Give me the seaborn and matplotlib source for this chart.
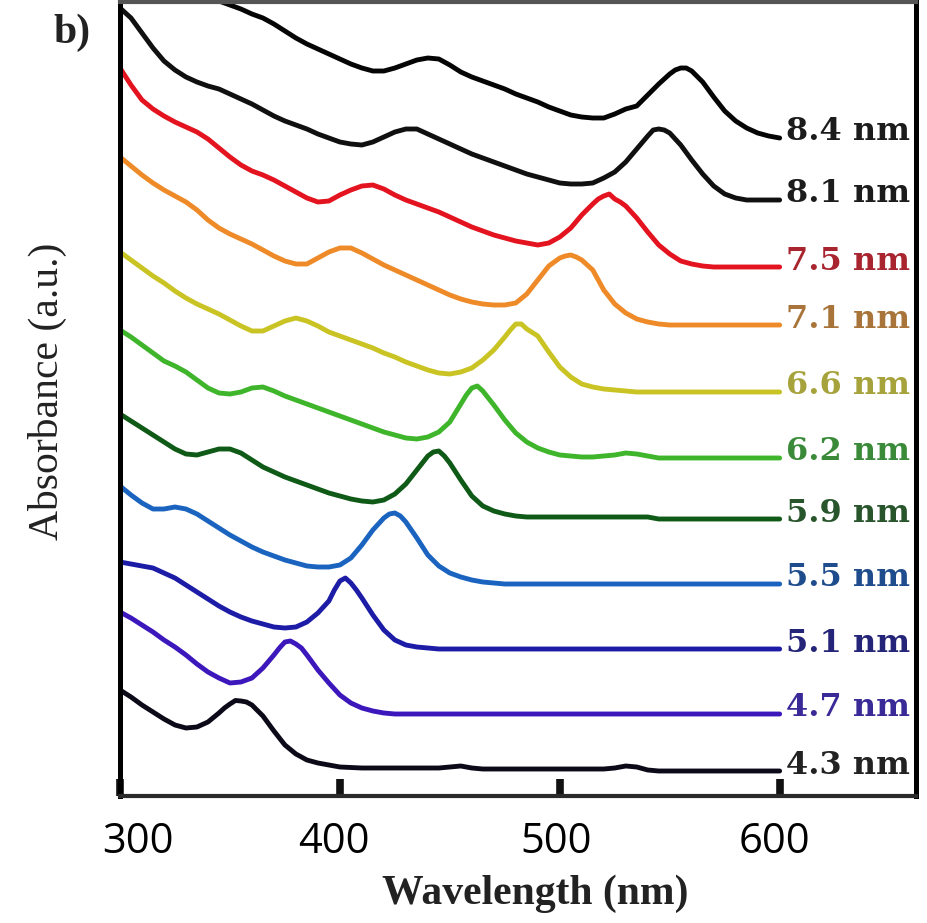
import matplotlib
matplotlib.use("Agg")
import matplotlib.pyplot as plt
from matplotlib.transforms import ScaledTranslation
import pandas as pd
import seaborn as sns

# Sample grid (nm) shared by all spectra
wavelength = list(range(300, 605, 5))

# Stacked absorbance spectra (a.u.), one list per nanocrystal size
abs_4_3 = [1.06, 0.99, 0.91, 0.84, 0.77, 0.71, 0.68, 0.69, 0.74, 0.83,
           0.92, 0.95, 0.91, 0.80, 0.65, 0.51, 0.42, 0.36, 0.33, 0.31,
           0.29, 0.285, 0.28, 0.28, 0.28, 0.28, 0.28, 0.28, 0.28, 0.28,
           0.29, 0.30, 0.28, 0.27, 0.27, 0.27, 0.27, 0.27, 0.27, 0.27,
           0.27, 0.27, 0.27, 0.27, 0.27, 0.28, 0.30, 0.29, 0.26, 0.25,
           0.25, 0.25, 0.25, 0.25, 0.25, 0.25, 0.25, 0.25, 0.25, 0.25, 0.25]
abs_4_7 = [1.84, 1.78, 1.71, 1.64, 1.56, 1.49, 1.41, 1.32, 1.24, 1.18,
           1.13, 1.14, 1.18, 1.28, 1.41, 1.54, 1.52, 1.41, 1.26, 1.13,
           1.01, 0.93, 0.88, 0.85, 0.83, 0.82, 0.82, 0.82, 0.82, 0.82,
           0.82, 0.82, 0.82, 0.82, 0.82, 0.82, 0.82, 0.82, 0.82, 0.82,
           0.82, 0.82, 0.82, 0.82, 0.82, 0.82, 0.82, 0.82, 0.82, 0.82,
           0.82, 0.82, 0.82, 0.82, 0.82, 0.82, 0.82, 0.82, 0.82, 0.82, 0.82]
abs_5_1 = [2.34, 2.32, 2.30, 2.28, 2.23, 2.18, 2.11, 2.04, 1.97, 1.90,
           1.84, 1.79, 1.75, 1.72, 1.69, 1.68, 1.69, 1.74, 1.83, 1.95,
           2.15, 2.13, 1.98, 1.81, 1.66, 1.56, 1.51, 1.49, 1.48, 1.47,
           1.47, 1.47, 1.47, 1.47, 1.47, 1.47, 1.47, 1.47, 1.47, 1.47,
           1.47, 1.47, 1.47, 1.47, 1.47, 1.47, 1.47, 1.47, 1.47, 1.47,
           1.47, 1.47, 1.47, 1.47, 1.47, 1.47, 1.47, 1.47, 1.47, 1.47, 1.47]
abs_5_5 = [3.10, 3.01, 2.93, 2.87, 2.87, 2.89, 2.87, 2.82, 2.75, 2.68,
           2.61, 2.55, 2.49, 2.44, 2.40, 2.36, 2.33, 2.30, 2.29, 2.29,
           2.31, 2.38, 2.51, 2.66, 2.78, 2.83, 2.74, 2.58, 2.41, 2.30,
           2.23, 2.19, 2.16, 2.14, 2.13, 2.12, 2.12, 2.12, 2.12, 2.12,
           2.12, 2.12, 2.12, 2.12, 2.12, 2.12, 2.12, 2.12, 2.12, 2.12,
           2.12, 2.12, 2.12, 2.12, 2.12, 2.12, 2.12, 2.12, 2.12, 2.12, 2.12]
abs_5_9 = [3.82, 3.75, 3.68, 3.61, 3.54, 3.47, 3.42, 3.41, 3.44, 3.47,
           3.47, 3.43, 3.36, 3.29, 3.24, 3.19, 3.15, 3.11, 3.07, 3.03,
           3.00, 2.97, 2.95, 2.94, 2.96, 3.02, 3.12, 3.26, 3.40, 3.45,
           3.33, 3.16, 3.00, 2.90, 2.85, 2.82, 2.80, 2.79, 2.79, 2.79,
           2.79, 2.79, 2.79, 2.79, 2.79, 2.79, 2.79, 2.79, 2.79, 2.77,
           2.77, 2.77, 2.77, 2.77, 2.77, 2.77, 2.77, 2.77, 2.77, 2.77, 2.77]
abs_6_2 = [4.66, 4.59, 4.51, 4.43, 4.35, 4.30, 4.24, 4.16, 4.08, 4.03,
           4.02, 4.04, 4.08, 4.09, 4.05, 4.00, 3.96, 3.92, 3.88, 3.84,
           3.80, 3.76, 3.72, 3.68, 3.64, 3.61, 3.58, 3.57, 3.59, 3.64,
           3.74, 3.92, 4.08, 4.05, 3.91, 3.76, 3.63, 3.54, 3.48, 3.44,
           3.41, 3.40, 3.39, 3.39, 3.40, 3.41, 3.43, 3.42, 3.40, 3.38,
           3.38, 3.38, 3.38, 3.38, 3.38, 3.38, 3.38, 3.38, 3.38, 3.38, 3.38]
abs_6_6 = [5.44, 5.36, 5.28, 5.20, 5.13, 5.05, 4.98, 4.92, 4.87, 4.82,
           4.76, 4.70, 4.65, 4.65, 4.70, 4.75, 4.78, 4.75, 4.70, 4.64,
           4.60, 4.56, 4.52, 4.48, 4.43, 4.39, 4.34, 4.30, 4.26, 4.23,
           4.22, 4.24, 4.28, 4.36, 4.46, 4.59, 4.72, 4.67, 4.60, 4.44,
           4.29, 4.19, 4.12, 4.09, 4.07, 4.06, 4.05, 4.04, 4.04, 4.04,
           4.04, 4.04, 4.04, 4.04, 4.04, 4.04, 4.04, 4.04, 4.04, 4.04, 4.04]
abs_7_1 = [6.39, 6.30, 6.21, 6.13, 6.06, 6.00, 5.94, 5.86, 5.76, 5.68,
           5.62, 5.57, 5.52, 5.46, 5.40, 5.35, 5.32, 5.32, 5.38, 5.44,
           5.48, 5.48, 5.43, 5.37, 5.31, 5.26, 5.21, 5.16, 5.11, 5.06,
           5.01, 4.97, 4.94, 4.92, 4.91, 4.91, 4.93, 5.02, 5.16, 5.30,
           5.38, 5.41, 5.36, 5.26, 5.06, 4.92, 4.83, 4.77, 4.74, 4.72,
           4.71, 4.71, 4.71, 4.71, 4.71, 4.71, 4.71, 4.71, 4.71, 4.71, 4.71]
abs_7_5 = [7.28, 7.11, 6.96, 6.87, 6.80, 6.74, 6.69, 6.64, 6.57, 6.48,
           6.39, 6.31, 6.25, 6.21, 6.16, 6.10, 6.04, 5.98, 5.94, 5.95,
           6.01, 6.06, 6.10, 6.11, 6.07, 6.01, 5.96, 5.92, 5.88, 5.84,
           5.79, 5.74, 5.69, 5.65, 5.61, 5.58, 5.55, 5.53, 5.51, 5.53,
           5.59, 5.68, 5.81, 5.92, 6.00, 5.97, 5.90, 5.78, 5.64, 5.51,
           5.42, 5.35, 5.32, 5.30, 5.29, 5.29, 5.29, 5.29, 5.29, 5.29, 5.29]
abs_8_1 = [7.88, 7.78, 7.63, 7.48, 7.35, 7.26, 7.19, 7.14, 7.10, 7.07,
           7.02, 6.97, 6.92, 6.86, 6.80, 6.75, 6.71, 6.67, 6.62, 6.58,
           6.54, 6.52, 6.51, 6.54, 6.59, 6.64, 6.67, 6.67, 6.62, 6.57,
           6.52, 6.47, 6.42, 6.38, 6.34, 6.30, 6.26, 6.22, 6.19, 6.16,
           6.13, 6.12, 6.12, 6.13, 6.18, 6.24, 6.34, 6.47, 6.60, 6.67,
           6.63, 6.51, 6.36, 6.22, 6.10, 6.02, 5.98, 5.96, 5.96, 5.96, 5.96]
# the largest size runs off the top of the frame below 340 nm
abs_8_4 = [8.00, 7.95, 7.91, 7.87, 7.82, 7.78, 7.72, 7.65, 7.58, 7.52,
           7.47, 7.42, 7.37, 7.32, 7.28, 7.25, 7.25, 7.28, 7.32, 7.36,
           7.38, 7.37, 7.31, 7.24, 7.19, 7.15, 7.11, 7.07, 7.02, 6.98,
           6.94, 6.89, 6.85, 6.81, 6.79, 6.78, 6.78, 6.82, 6.87, 6.90,
           7.01, 7.12, 7.22, 7.28, 7.25, 7.14, 6.99, 6.85, 6.75, 6.68,
           6.63, 6.60, 6.58]
wavelength_8_4 = wavelength[8:]

# extra readings around each excitonic maximum (wavelength, absorbance)
peak_points = {
    "4.3 nm": [(347.5, 0.88), (352.5, 0.955), (357.5, 0.94)],
    "4.7 nm": [(372.5, 1.48), (377.5, 1.55), (382.5, 1.48)],
    "5.1 nm": [(397.5, 2.06), (402.5, 2.18), (407.5, 2.06)],
    "5.5 nm": [(422.5, 2.82), (427.5, 2.80)],
    "5.9 nm": [(442.5, 3.44), (447.5, 3.40)],
    "6.2 nm": [(457.5, 4.01), (462.5, 4.10), (467.5, 3.98)],
    "6.6 nm": [(477.5, 4.66), (482.5, 4.72)],
    "7.1 nm": [(502.5, 5.40), (507.5, 5.39)],
    "7.5 nm": [(517.5, 5.97), (522.5, 6.02), (527.5, 5.94)],
    "8.1 nm": [(542.5, 6.66), (547.5, 6.66)],
    "8.4 nm": [(552.5, 7.26), (557.5, 7.28)],
}

sizes = ["8.4 nm", "8.1 nm", "7.5 nm", "7.1 nm", "6.6 nm", "6.2 nm",
         "5.9 nm", "5.5 nm", "5.1 nm", "4.7 nm", "4.3 nm"]
spectra = [abs_8_4, abs_8_1, abs_7_5, abs_7_1, abs_6_6, abs_6_2,
           abs_5_9, abs_5_5, abs_5_1, abs_4_7, abs_4_3]
grids = [wavelength_8_4] + [wavelength] * 10
line_colors = ["#050505", "#101010", "#e3141f", "#ee8a28", "#c9c424",
               "#3fb52c", "#0f5a16", "#1a64c0", "#1c1ca6", "#3c18bc", "#0c0a18"]
label_colors = ["#1c1c1c", "#1c1c1c", "#a8252f", "#a8743a", "#a6a23c",
                "#3a8a3a", "#28552c", "#1f4c8c", "#242478", "#3a2a98", "#222222"]
tick_values = [300, 400, 500, 600]
tick_labels = ["300", "400", "500", "600"]

frames = []
for name, grid, vals in zip(sizes, grids, spectra):
    pts = list(zip(grid, vals)) + peak_points[name]
    pts.sort()
    frames.append(pd.DataFrame({"Wavelength": [p[0] for p in pts],
                                "Absorbance": [p[1] for p in pts],
                                "Size": name}))
df = pd.concat(frames, ignore_index=True)

sns.set_style("ticks")
plt.rcParams["font.family"] = ["Liberation Serif", "DejaVu Serif"]

fig = plt.figure(figsize=(9.27, 9.23), dpi=100)
ax = fig.add_axes([120 / 927, 127 / 923, 796 / 927, 794 / 923])

sns.lineplot(data=df, x="Wavelength", y="Absorbance", hue="Size",
             hue_order=sizes, palette=dict(zip(sizes, line_colors)),
             estimator=None, sort=False, legend=False, linewidth=3.5, ax=ax)

ax.set_xlim(300, 662)
ax.set_ylim(0, 7.94)

# size annotations at the end of each trace
for name, vals, col in zip(sizes, spectra, label_colors):
    ax.text(603, vals[-1] + 0.06, name, color=col, fontsize=23,
            fontweight="bold", family="DejaVu Serif", ha="left", va="center",
            clip_on=True)

ax.set_yticks([])
ax.set_xticks(tick_values)
ax.set_xticklabels(tick_labels, family="Open Sans", fontsize=30, color="black")
ax.tick_params(axis="x", which="major", direction="in", length=12, width=5.5,
               color="#111111", pad=18, bottom=True, top=False)

offsets_px = [18, -6, -4, -5]
for lab, dx in zip(ax.get_xticklabels(), offsets_px):
    lab.set_transform(lab.get_transform() + ScaledTranslation(dx / 100, 0, fig.dpi_scale_trans))

for side, lw, col in [("left", 3.6, "#000000"), ("right", 3.6, "#000000"),
                      ("bottom", 3.0, "#2a2a2a"), ("top", 3.0, "#555555")]:
    ax.spines[side].set_visible(True)
    ax.spines[side].set_linewidth(lw)
    ax.spines[side].set_color(col)

ax.set_xlabel("Wavelength (nm)", fontsize=30, fontweight="bold", color="#222222")
ax.xaxis.label.set_va("baseline")
ax.xaxis.set_label_coords(415 / 796, -108 / 794)
ax.set_ylabel("Absorbance (a.u.)", fontsize=30, color="#222222")
ax.yaxis.label.set_va("center")
ax.yaxis.set_label_coords(-73 / 796, 405 / 794)

fig.text(53 / 927, 1 - 43 / 923, "b)", fontsize=30, fontweight="bold",
         color="#222222", va="baseline", ha="left")

fig.savefig("out.png", dpi=100, facecolor="white")
